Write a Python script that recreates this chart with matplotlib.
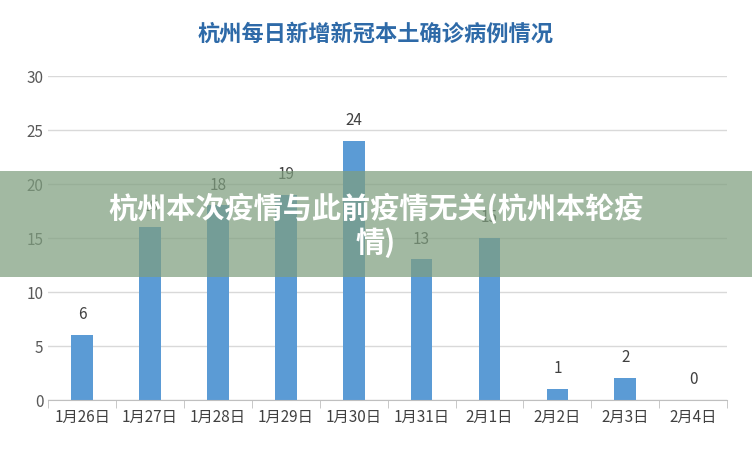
import matplotlib
matplotlib.use("Agg")
import matplotlib.pyplot as plt
from matplotlib.patches import Rectangle

plt.rcParams['font.family'] = ['Noto Sans CJK SC', 'DejaVu Sans']

categories = ["1月26日", "1月27日", "1月28日", "1月29日", "1月30日", "1月31日", "2月1日", "2月2日", "2月3日", "2月4日"]
values = [6, 16, 18, 19, 24, 13, 15, 1, 2, 0]

fig = plt.figure(figsize=(7.52, 4.52), dpi=100)
ax = fig.add_axes([0.064, 0.113, 0.903, 0.717])
x = range(len(categories))
ax.bar(x, values, width=0.32, color="#5b9bd5", zorder=2)
for i, v in zip(x, values):
    ax.text(i, v + 1.2, str(v), ha="center", va="bottom", fontsize=11, color="#404040")
ax.set_xlim(-0.5, len(categories) - 0.5)
ax.set_ylim(0, 30)
ax.set_yticks(range(0, 31, 5))
ax.set_xticks(list(x))
ax.set_xticklabels(categories, fontsize=11, color="#404040")
ax.set_xticks([i + 0.5 for i in range(-1, len(categories))], minor=True)
ax.tick_params(axis="x", which="major", length=0, pad=6)
ax.tick_params(axis="x", which="minor", length=6, color="#bfbfbf")
ax.tick_params(axis="y", length=0, labelsize=11, labelcolor="#595959")
ax.grid(axis="y", color="#d9d9d9", linewidth=1, zorder=0)
for s in ["top", "right", "left"]:
    ax.spines[s].set_visible(False)
ax.spines["bottom"].set_color("#bfbfbf")

fig.text(0.5, 0.925, "杭州每日新增新冠本土确诊病例情况", ha="center", va="center",
         fontsize=16, fontweight="bold", color="#2e6aa8")

fig.patches.append(Rectangle((0, 0.385), 1, 0.234, transform=fig.transFigure,
                             facecolor="#7f9f7f", alpha=0.72, edgecolor="none", zorder=5))
fig.text(0.5, 0.502, "杭州本次疫情与此前疫情无关(杭州本轮疫\n情)", ha="center", va="center",
         fontsize=21, fontweight="bold", color="white", linespacing=1.15, zorder=6)

fig.savefig("out.png", dpi=100)
